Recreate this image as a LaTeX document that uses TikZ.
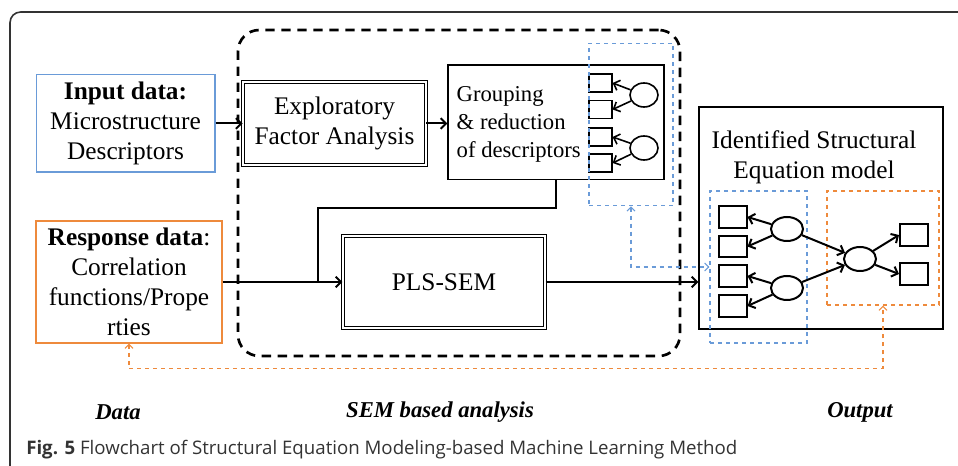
\documentclass[tikz,border=0pt]{standalone}
\usepackage{fontspec}
\setmainfont{Liberation Serif}
\newfontfamily\capfont{Open Sans}
\usetikzlibrary{positioning,arrows.meta,calc,fit,shapes.geometric}

\definecolor{semblue}{HTML}{6A9BD8}
\definecolor{semorange}{HTML}{EE8A3C}
\definecolor{framegray}{HTML}{333333}

\begin{document}
\begin{tikzpicture}[
  x=0.75pt,y=-0.75pt,
  font=\fontsize{19}{22.5}\selectfont,
  >={Straight Barb[length=4pt,width=8pt]},
  box/.style={draw,line width=1pt,align=center,inner sep=0pt},
  dbox/.style={box,double,double distance=1.3pt,line width=0.8pt},
  ind/.style={draw,line width=1.5pt,minimum width=21pt,minimum height=16pt,inner sep=0pt},
  lat/.style={draw,ellipse,line width=1.5pt,minimum width=24pt,minimum height=18pt,inner sep=0pt},
  link/.style={line width=1.5pt,->},
  bdash/.style={draw=semblue,dashed,line width=0.8pt},
  odash/.style={draw=semorange,dashed,line width=0.8pt},
  tag/.style={font=\fontsize{17}{20}\selectfont\bfseries\itshape}
]
\useasboundingbox (0,0) rectangle (958,466);
\draw[framegray,line width=1.2pt,rounded corners=8pt] (10,470) -- (10,12) -- (962,12);

% data side
\node[box,draw=semblue,minimum width=134pt,minimum height=73pt] (inp) at (125.5,123.5)
  {\textbf{Input data:}\\Microstructure\\Descriptors};
\node[box,draw=semorange,minimum width=139.5pt,minimum height=91.5pt] (resp) at (129,282)
  {\textbf{Response data}:\\Correlation\\functions/Prope\\rties};

% SEM based analysis
\node[draw,dashed,line width=2pt,dash pattern=on 7pt off 5pt,rounded corners=16pt,
  minimum width=331.5pt,minimum height=244.5pt] (sem) at (459,193) {};
\node[dbox,minimum width=137pt,minimum height=62pt] (efa) at (334.5,123.5)
  {Exploratory\\Factor Analysis};
\node[box,minimum width=162pt,minimum height=86pt] (grp) at (556,122.5) {};
\node[anchor=west,align=left,font=\fontsize{17}{21}\selectfont] (grptxt) at (452,124)
  {Grouping\\\& reduction\\of descriptors};
\node[dbox,minimum width=151.5pt,minimum height=69pt] (pls) at (444,282) {PLS-SEM};

% small model inside the grouping box
\foreach \i/\y in {1/83,2/109.5,3/137,4/163}
  \node[ind,minimum width=17pt,minimum height=13.5pt,line width=1.2pt] (g\i) at (600.5,\y) {};
\node[lat,minimum width=21pt,line width=1.2pt] (gf1) at (644,95) {};
\node[lat,minimum width=21pt,line width=1.2pt] (gf2) at (644,148) {};
\draw[line width=1.2pt,->] (gf1) -- (g1.east);
\draw[line width=1.2pt,->] (gf1) -- (g2.east);
\draw[line width=1.2pt,->] (gf2) -- (g3.east);
\draw[line width=1.2pt,->] (gf2) -- (g4.east);
\node[bdash,minimum width=63pt,minimum height=122pt,inner sep=0pt] (bsm) at (631,124.5) {};

% output
\node[box,minimum width=183pt,minimum height=166.5pt] (model) at (821,218) {};
\node[align=center] (mtitle) at (814,157) {Identified Structural\\Equation model};
\node[bdash,minimum width=72.75pt,minimum height=114pt,inner sep=0pt] (bmod) at (758.5,267) {};
\node[odash,minimum width=84pt,minimum height=85.5pt,inner sep=0pt] (omod) at (883,248) {};
\foreach \i/\y in {1/217,2/246.5,3/276,4/306}
  \node[ind] (x\i) at (732.5,\y) {};
\node[lat] (f1) at (787,229) {};
\node[lat] (f2) at (787,288) {};
\node[lat] (f3) at (860,259) {};
\node[ind] (y1) at (914,235) {};
\node[ind] (y2) at (914,274) {};
\draw[link] (f1) -- (x1.east);
\draw[link] (f1) -- (x2.east);
\draw[link] (f2) -- (x3.east);
\draw[link] (f2) -- (x4.east);
\draw[link] (f1) -- (f3);
\draw[link] (f2) -- (f3);
\draw[link] (f3) -- (y1.west);
\draw[link] (f3) -- (y2.west);

% flow
\coordinate (jn) at (318,282);
\draw[link] (inp.east) -- (efa.west);
\draw[link] (efa.east) -- (efa.east -| grp.west);
\draw[line width=1.5pt] (grp.south) -- ++(0,28) -| (jn);
\draw[link] (resp.east) -- (pls.west);
\draw[link] (pls.east) -- (pls.east -| model.west);
\draw[bdash,{Straight Barb[length=3pt,width=6pt]}-{Straight Barb[length=3pt,width=6pt]}]
  (bsm.south) |- (bmod.west);
\draw[odash,{Straight Barb[length=3pt,width=6pt]}-{Straight Barb[length=3pt,width=6pt]}]
  (resp.south) -- ++(0,25) -| (omod.south);

% labels
\node[tag] (ldata) at (118,412) {Data};
\node[tag] (lsem) at (440,412) {SEM based analysis};
\node[tag] (lout) at (860,412) {Output};
\node[anchor=west,font=\capfont\fontsize{14}{16}\selectfont,text=framegray,inner sep=0pt] (cap) at (26,450)
  {\textbf{Fig. 5} Flowchart of Structural Equation Modeling-based Machine Learning Method};
\end{tikzpicture}
\end{document}
